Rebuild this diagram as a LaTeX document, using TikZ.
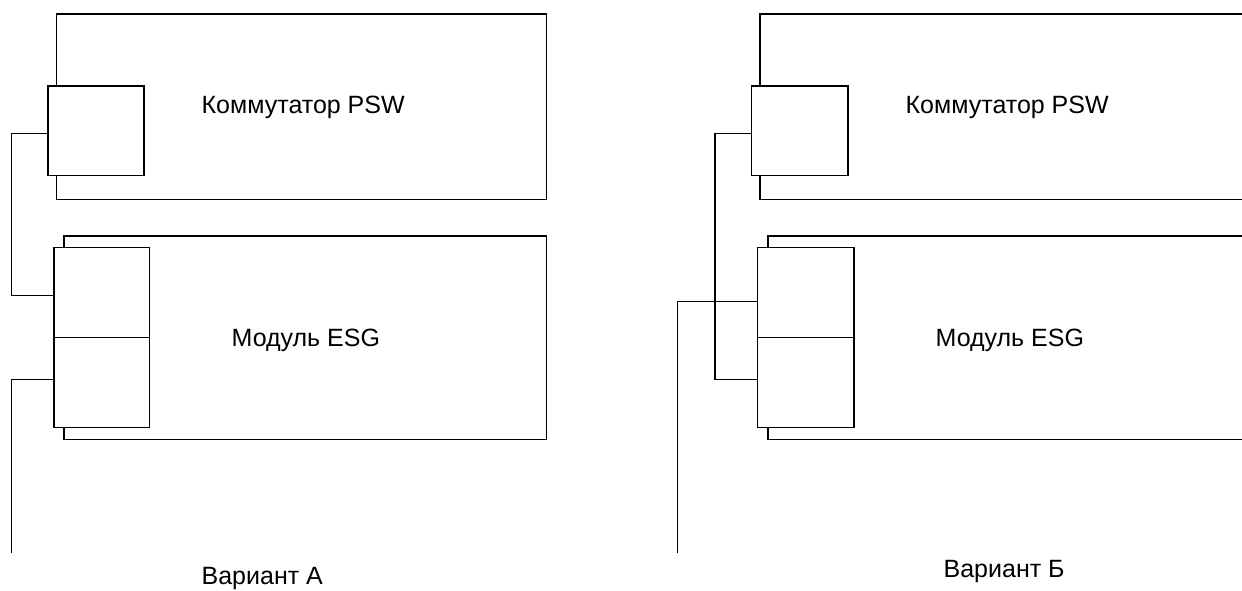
\documentclass[tikz,border=0pt]{standalone}
\usepackage{fontspec}
\setmainfont{Liberation Sans}
\begin{document}
\begin{tikzpicture}[x=1pt,y=-1pt,line width=1.3pt,
  box/.style={draw,rectangle,inner sep=0pt,anchor=north west},
  port/.style={box,fill=white},
  lbl/.style={inner sep=0pt,anchor=base west,font=\fontsize{25}{30}\selectfont}]
\useasboundingbox (0,0) rectangle (1242,591);
\clip (0,0) rectangle (1242,591);
% ---- Variant A ----
\node[box,minimum width=490.2pt,minimum height=185.7pt] (swA) at (55.5,13.3) {};
\node[box,minimum width=482.4pt,minimum height=203.2pt] (esgA) at (63.3,235.3) {};
\node[port,minimum width=96pt,minimum height=89.4pt] (swpA) at (47.3,85.3) {};
\node[port,minimum width=95.7pt,minimum height=90pt] (esgA1) at (53.3,247) {};
\node[port,minimum width=95.7pt,minimum height=90pt] (esgA2) at (53.3,337) {};
\coordinate (endA) at (11.3,553);
\draw ([yshift=-3pt]swpA.west) -- ++(-36,0) |- ([yshift=-3pt]esgA1.west);
\draw ([yshift=3pt]esgA2.west) -| (endA);
\node[lbl] (tswA) at (201,114) {Коммутатор PSW};
\node[lbl] (tesgA) at (231,346) {Модуль ESG};
\node[lbl] (tvarA) at (201,584.5) {Вариант А};
% ---- Variant B ----
\node[box,minimum width=520pt,minimum height=185.7pt] (swB) at (759.3,13.3) {};
\node[box,minimum width=520pt,minimum height=203.2pt] (esgB) at (767.3,235.3) {};
\node[port,minimum width=96.3pt,minimum height=89.4pt] (swpB) at (751,85.3) {};
\node[port,minimum width=96.3pt,minimum height=90pt] (esgB1) at (757,247) {};
\node[port,minimum width=96.3pt,minimum height=90pt] (esgB2) at (757,337) {};
\coordinate (endB) at (677.3,553);
\draw ([yshift=-3pt]swpB.west) -- ++(-36,0) |- ([yshift=3pt]esgB2.west);
\draw ([yshift=-8.7pt]esgB1.west) -| (endB);
\node[lbl] (tswB) at (905,114) {Коммутатор PSW};
\node[lbl] (tesgB) at (935,346) {Модуль ESG};
\node[lbl] (tvarB) at (943,577) {Вариант Б};
\end{tikzpicture}
\end{document}
